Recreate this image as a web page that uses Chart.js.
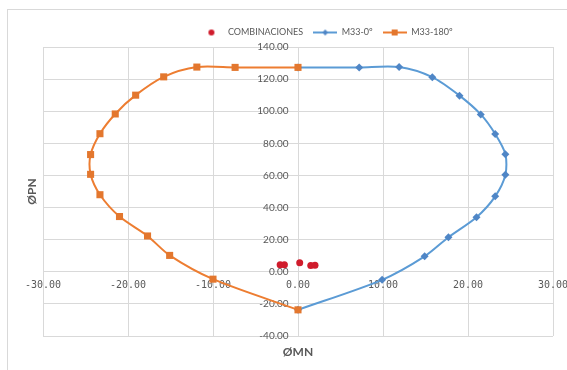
<!DOCTYPE html>
<html>
<head>
<meta charset="utf-8">
<script src="https://cdn.jsdelivr.net/npm/chart.js@4/dist/chart.umd.min.js"></script>
<style>
  html, body { margin: 0; padding: 0; background: #fff; overflow: hidden; }
  #frame { position: absolute; left: 7px; top: 9px; width: 600px; height: 400px; border: 1px solid #d9d9d9; }
  #chart { position: absolute; left: 0; top: 0; }
</style>
</head>
<body>
<div id="frame"></div>
<canvas id="chart" width="567" height="370"></canvas>
<script>
// interaction diagram values
const combX = [-2.1, -1.6, 0.2, 1.5, 2.0];
const combY = [4.3, 4.4, 5.6, 3.9, 4.1];

const m0X = [0, 7.2, 11.9, 15.8, 19.0, 21.5, 23.2, 24.4, 24.4, 23.2, 21.0, 17.7, 14.9, 9.9, 0];
const m0Y = [127.3, 127.3, 127.5, 121.2, 109.7, 98.0, 85.8, 73.2, 60.5, 47.0, 34.0, 21.5, 9.6, -5.0, -23.7];

const m180X = [0, -7.4, -11.9, -15.8, -19.1, -21.5, -23.3, -24.4, -24.4, -23.3, -21.0, -17.7, -15.1, -10.0, 0];
const m180Y = [127.3, 127.3, 127.5, 121.4, 110.0, 98.3, 86.0, 73.0, 60.7, 48.0, 34.4, 22.3, 10.2, -4.6, -23.7];

const xTicks = { min: -30, max: 30, step: 10 };
const yTicks = { min: -40, max: 140, step: 20 };

const labels = ["COMBINACIONES", "M33-0º", "M33-180º"];

const RED = "#d01c2c", BLUE = "#5b9bd5", BLUE_PT = "#4f86c6", ORANGE = "#ed7d31", ORANGE_PT = "#e3772e";
const GRID = "#d9d9d9", TEXT = "#595959";

const pts = (xs, ys) => xs.map((x, i) => ({ x, y: ys[i] }));

// small legend icons: line + marker like excel
function icon(kind) {
  const c = document.createElement("canvas");
  c.width = 24; c.height = 10;
  const g = c.getContext("2d");
  if (kind === "dot") {
    g.fillStyle = RED;
    g.beginPath(); g.arc(12, 5, 3, 0, Math.PI * 2); g.fill();
    return c;
  }
  g.strokeStyle = kind === "diamond" ? BLUE : ORANGE;
  g.lineWidth = 2;
  g.beginPath(); g.moveTo(0, 5); g.lineTo(24, 5); g.stroke();
  if (kind === "diamond") {
    g.fillStyle = BLUE_PT;
    g.beginPath(); g.moveTo(12, 2); g.lineTo(15, 5); g.lineTo(12, 8); g.lineTo(9, 5); g.closePath(); g.fill();
  } else {
    g.fillStyle = ORANGE_PT;
    g.fillRect(9, 2, 6, 6);
  }
  return c;
}
const icons = [icon("dot"), icon("diamond"), icon("square")];

// excel puts the legend a bit right of centre
const legendShift = {
  id: "legendShift",
  afterLayout(chart) {
    const l = chart.legend;
    const dx = 326 - (l.left + l.right) / 2;
    l.left += dx; l.right += dx;
  }
};

Chart.defaults.font.family = "Lato";
Chart.defaults.color = TEXT;

new Chart(document.getElementById("chart"), {
  type: "scatter",
  data: {
    datasets: [
      {
        label: labels[0],
        data: pts(combX, combY),
        pointStyle: "circle",
        pointRadius: 3.5,
        backgroundColor: RED,
        borderColor: RED,
        borderWidth: 0,
        order: 0,
      },
      {
        label: labels[1],
        data: pts(m0X, m0Y),
        showLine: true,
        tension: 0.28,
        borderColor: BLUE,
        borderWidth: 2,
        pointStyle: "rectRot",
        pointRadius: 4,
        pointBackgroundColor: BLUE_PT,
        pointBorderWidth: 0,
        order: 2,
      },
      {
        label: labels[2],
        data: pts(m180X, m180Y),
        showLine: true,
        tension: 0.28,
        borderColor: ORANGE,
        borderWidth: 2,
        pointStyle: "rect",
        pointRadius: 5,
        pointBackgroundColor: ORANGE_PT,
        pointBorderWidth: 0,
        order: 1,
      },
    ],
  },
  options: {
    responsive: false,
    animation: false,
    layout: { padding: { left: 0, right: 14, top: 18, bottom: 0 } },
    plugins: {
      tooltip: { enabled: false },
      legend: {
        position: "top",
        maxHeight: 35,
        labels: {
          usePointStyle: true,
          pointStyleWidth: 24,
          padding: 10,
          font: { size: 9 },
          color: TEXT,
          generateLabels: (chart) => chart.data.datasets.map((ds, i) => ({
            text: ds.label,
            pointStyle: icons[i],
            fillStyle: "transparent",
            strokeStyle: "transparent",
            lineWidth: 0,
            fontColor: TEXT,
            hidden: !chart.isDatasetVisible(i),
            datasetIndex: i,
          })),
        },
      },
    },
    scales: {
      x: {
        type: "linear",
        position: { y: 0 },
        min: xTicks.min, max: xTicks.max,
        ticks: {
          stepSize: xTicks.step,
          padding: 8,
          color: TEXT,
          font: { family: "DejaVu Sans Mono", size: 10 },
          callback: (v) => v.toFixed(2),
        },
        grid: { color: GRID, drawTicks: false },
        border: { color: GRID },
        afterFit: (s) => { s.paddingLeft = 0; s.paddingRight = 0; },
      },
      y: {
        type: "linear",
        // labels sit a little left of the zero line; the line itself is the x grid at 0
        position: { x: -1.1 },
        min: yTicks.min, max: yTicks.max,
        ticks: {
          stepSize: yTicks.step,
          color: TEXT,
          font: { size: 10 },
          callback: (v) => v.toFixed(2),
        },
        grid: { color: GRID, drawTicks: false },
        border: { display: false },
        afterFit: (s) => { s.paddingTop = 0; s.paddingBottom = 0; },
      },
      // empty axes only used to carry the axis titles
      xTitle: {
        type: "linear", axis: "x", position: "bottom", min: 0, max: 1,
        ticks: { display: false },
        grid: { display: false, drawTicks: false },
        border: { display: false },
        title: { display: true, text: "ØMN", color: TEXT, font: { size: 12, weight: "bold" }, padding: { top: 0, bottom: 11 } },
        afterFit: (s) => { s.height = 34; },
      },
      yTitle: {
        type: "linear", axis: "y", position: "left", min: 0, max: 1,
        ticks: { display: false },
        grid: { display: false, drawTicks: false },
        border: { display: false },
        title: { display: true, text: "ØPN", color: TEXT, font: { size: 12, weight: "bold" }, padding: { top: 25, bottom: 0 } },
        afterFit: (s) => { s.width = 43; },
      },
    },
  },
  plugins: [legendShift],
});
</script>
</body>
</html>
